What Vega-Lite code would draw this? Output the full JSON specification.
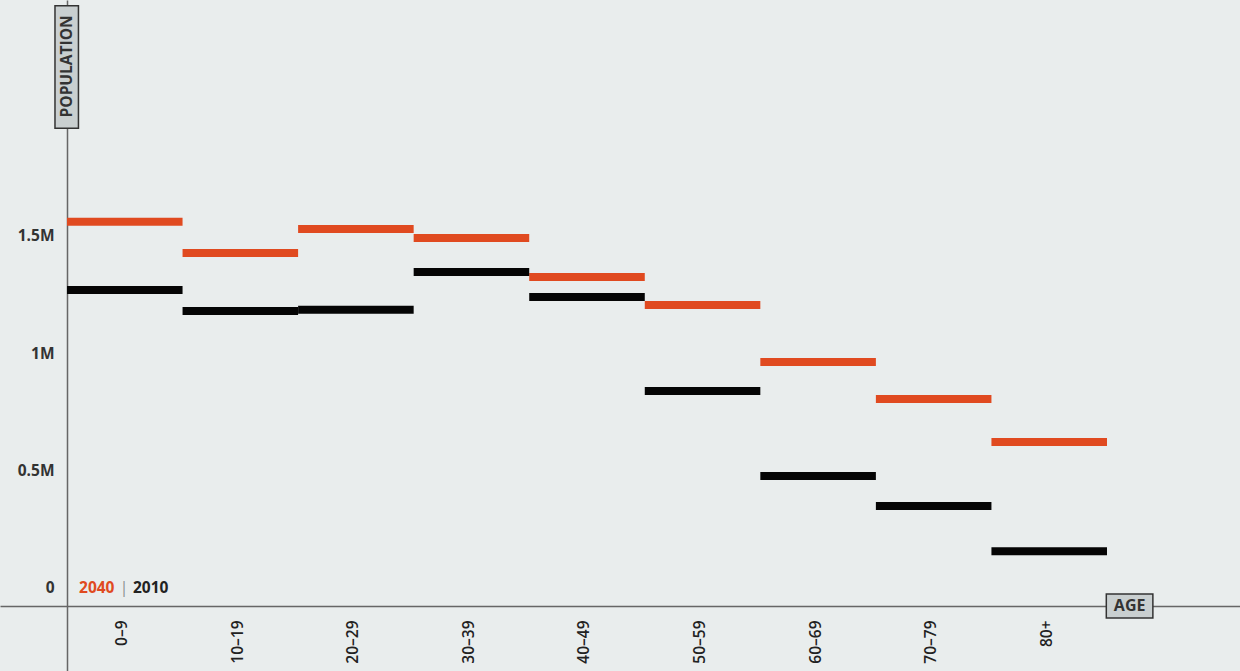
{
  "$schema": "https://vega.github.io/schema/vega-lite/v6.json",
  "width": 1240,
  "height": 671,
  "padding": 0,
  "autosize": {"type": "none"},
  "background": "#e9eded",
  "config": {"view": {"stroke": null}, "font": "Open Sans"},
  "datasets": {
    "pop": [
      {"age": "0–9", "start": 0, "end": 10, "year": "2040", "population": 1560000},
      {"age": "10–19", "start": 10, "end": 20, "year": "2040", "population": 1427000},
      {"age": "20–29", "start": 20, "end": 30, "year": "2040", "population": 1529000},
      {"age": "30–39", "start": 30, "end": 40, "year": "2040", "population": 1491000},
      {"age": "40–49", "start": 40, "end": 50, "year": "2040", "population": 1325000},
      {"age": "50–59", "start": 50, "end": 60, "year": "2040", "population": 1206000},
      {"age": "60–69", "start": 60, "end": 70, "year": "2040", "population": 963000},
      {"age": "70–79", "start": 70, "end": 80, "year": "2040", "population": 805000},
      {"age": "80+", "start": 80, "end": 90, "year": "2040", "population": 622000},
      {"age": "0–9", "start": 0, "end": 10, "year": "2010", "population": 1270000},
      {"age": "10–19", "start": 10, "end": 20, "year": "2010", "population": 1180000},
      {"age": "20–29", "start": 20, "end": 30, "year": "2010", "population": 1185000},
      {"age": "30–39", "start": 30, "end": 40, "year": "2010", "population": 1346000},
      {"age": "40–49", "start": 40, "end": 50, "year": "2010", "population": 1240000},
      {"age": "50–59", "start": 50, "end": 60, "year": "2010", "population": 839000},
      {"age": "60–69", "start": 60, "end": 70, "year": "2010", "population": 477000},
      {"age": "70–79", "start": 70, "end": 80, "year": "2010", "population": 349000},
      {"age": "80+", "start": 80, "end": 90, "year": "2010", "population": 157000}
    ],
    "one": [{}]
  },
  "layer": [
    {
      "data": {"name": "pop"},
      "mark": {"type": "rule", "strokeWidth": 8, "strokeCap": "butt"},
      "encoding": {
        "x": {
          "field": "start", "type": "quantitative",
          "scale": {"domain": [-5.798, 101.51], "nice": false, "zero": false},
          "axis": {
            "orient": "bottom", "offset": -65, "title": null, "grid": false, "ticks": false,
            "values": [5, 15, 25, 35, 45, 55, 65, 75, 85],
            "labelExpr": "datum.value == 85 ? '80+' : (datum.value - 5) + '–' + (datum.value + 4)",
            "labelAngle": -90, "labelAlign": "right", "labelBaseline": "middle",
            "labelPadding": 14, "labelOffset": -3,
            "labelFont": "Open Sans", "labelFontSize": 15.5, "labelFontWeight": 600, "labelColor": "#222",
            "domainColor": "#666", "domainWidth": 1.5
          }
        },
        "x2": {"field": "end"},
        "y": {
          "field": "population", "type": "quantitative",
          "scale": {"domain": [-353600, 2505000], "nice": false, "zero": false},
          "axis": {
            "orient": "left", "offset": -67, "title": null, "grid": false, "ticks": false,
            "values": [0, 500000, 1000000, 1500000],
            "labelExpr": "datum.value == 0 ? '0' : (datum.value / 1000000) + 'M'",
            "labelPadding": 13, "labelAlign": "right", "labelBaseline": "middle",
            "labelFont": "Open Sans", "labelFontSize": 15.5, "labelFontWeight": "bold", "labelColor": "#333",
            "domainColor": "#666", "domainWidth": 1.5
          }
        },
        "color": {
          "field": "year", "type": "nominal",
          "scale": {"domain": ["2040", "2010"], "range": ["#e04a20", "#050505"]},
          "legend": null
        }
      }
    },
    {
      "data": {"name": "one"},
      "mark": {"type": "rect", "fill": "#c9cfd0", "stroke": "#333", "strokeWidth": 1.5},
      "encoding": {
        "x": {"datum": -1.04, "type": "quantitative"},
        "x2": {"datum": 0.99},
        "y": {"datum": 2481000, "type": "quantitative"},
        "y2": {"datum": 1959000}
      }
    },
    {
      "data": {"name": "one"},
      "mark": {"type": "text", "text": "POPULATION", "angle": 270, "align": "center", "baseline": "middle", "font": "Open Sans", "fontSize": 15.5, "fontWeight": "bold", "letterSpacing": 1.4, "color": "#333"},
      "encoding": {
        "x": {"datum": 0.02, "type": "quantitative"},
        "y": {"datum": 2222000, "type": "quantitative"}
      }
    },
    {
      "data": {"name": "one"},
      "mark": {"type": "rect", "fill": "#c9cfd0", "stroke": "#333", "strokeWidth": 1.5},
      "encoding": {
        "x": {"datum": 89.94, "type": "quantitative"},
        "x2": {"datum": 93.97},
        "y": {"datum": -25500, "type": "quantitative"},
        "y2": {"datum": -127700}
      }
    },
    {
      "data": {"name": "one"},
      "mark": {"type": "text", "text": "AGE", "align": "center", "baseline": "middle", "font": "Open Sans", "fontSize": 16, "fontWeight": "bold", "letterSpacing": 1.2, "color": "#333"},
      "encoding": {
        "x": {"datum": 91.96, "type": "quantitative"},
        "y": {"datum": -76600, "type": "quantitative"}
      }
    },
    {
      "data": {"name": "one"},
      "mark": {"type": "text", "text": "2040", "align": "left", "baseline": "middle", "font": "Open Sans", "fontSize": 15.5, "fontWeight": "bold", "color": "#e04a20"},
      "encoding": {
        "x": {"datum": 1.04, "type": "quantitative"},
        "y": {"datum": 0, "type": "quantitative"}
      }
    },
    {
      "data": {"name": "one"},
      "mark": {"type": "text", "text": "|", "align": "center", "baseline": "middle", "font": "Open Sans", "fontSize": 15.5, "fontWeight": "normal", "color": "#8a9090"},
      "encoding": {
        "x": {"datum": 4.93, "type": "quantitative"},
        "y": {"datum": 0, "type": "quantitative"}
      }
    },
    {
      "data": {"name": "one"},
      "mark": {"type": "text", "text": "2010", "align": "left", "baseline": "middle", "font": "Open Sans", "fontSize": 15.5, "fontWeight": "bold", "color": "#222"},
      "encoding": {
        "x": {"datum": 5.71, "type": "quantitative"},
        "y": {"datum": 0, "type": "quantitative"}
      }
    }
  ]
}
